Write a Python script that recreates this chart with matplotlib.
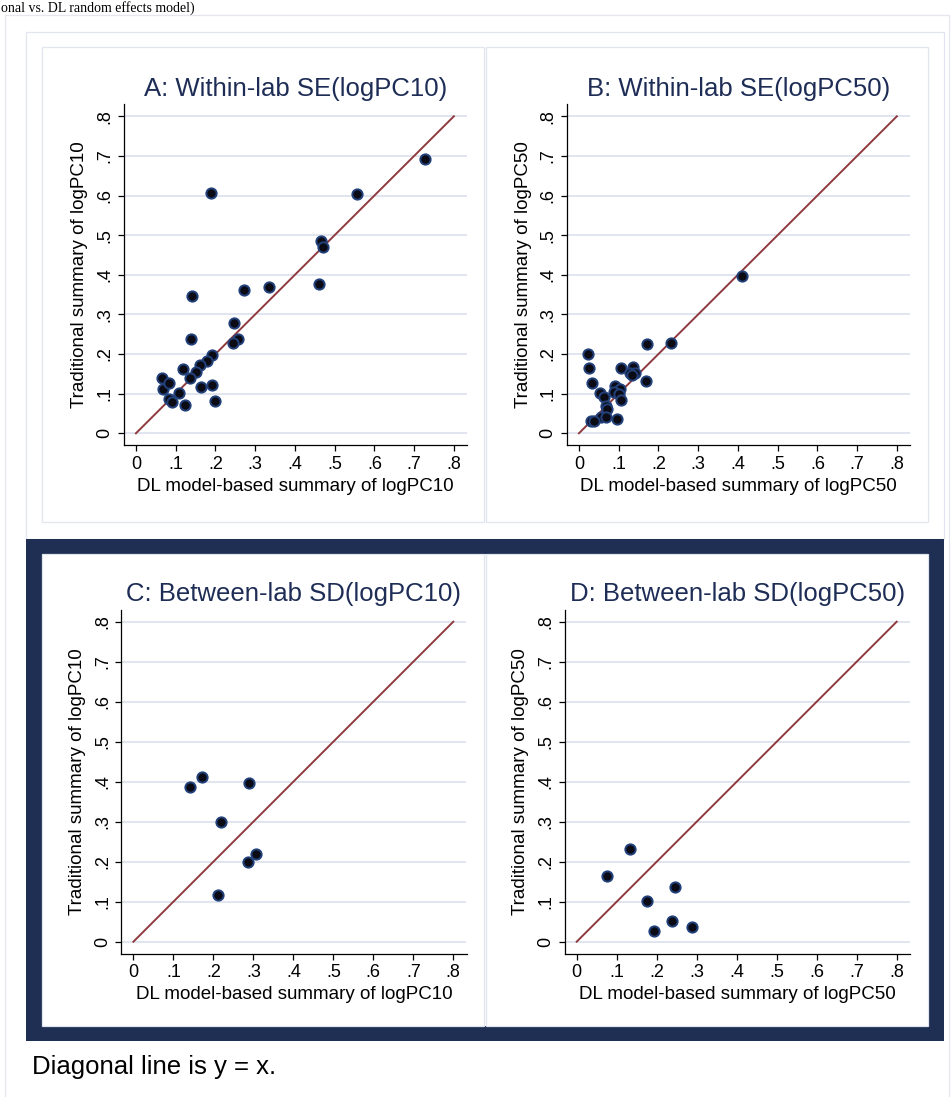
import numpy as np
import matplotlib.pyplot as plt
from matplotlib.patches import Rectangle

# panel A: within-lab SE(logPC10)
a_dl = [0.728, 0.557, 0.189, 0.465, 0.471, 0.460, 0.336, 0.272, 0.142, 0.247,
        0.138, 0.257, 0.243, 0.191, 0.179, 0.161, 0.151, 0.118, 0.137, 0.164,
        0.192, 0.065, 0.067, 0.084, 0.109, 0.084, 0.090, 0.124, 0.198]
a_trad = [0.692, 0.603, 0.607, 0.485, 0.469, 0.378, 0.368, 0.362, 0.346, 0.278,
          0.237, 0.237, 0.228, 0.197, 0.183, 0.172, 0.154, 0.163, 0.140, 0.118,
          0.122, 0.139, 0.113, 0.126, 0.101, 0.086, 0.080, 0.072, 0.082]

# panel B: within-lab SE(logPC50)
b_dl = [0.410, 0.231, 0.172, 0.170, 0.024, 0.025, 0.033, 0.105, 0.137, 0.128,
        0.140, 0.134, 0.092, 0.103, 0.089, 0.100, 0.106, 0.054, 0.062, 0.068,
        0.071, 0.056, 0.067, 0.030, 0.037, 0.097]
b_trad = [0.397, 0.229, 0.225, 0.133, 0.199, 0.165, 0.128, 0.165, 0.167, 0.152,
          0.152, 0.148, 0.119, 0.113, 0.104, 0.100, 0.084, 0.102, 0.091, 0.070,
          0.061, 0.042, 0.042, 0.032, 0.032, 0.037]

# panel C: between-lab SD(logPC10)
c_dl = [0.141, 0.171, 0.288, 0.219, 0.286, 0.306, 0.211]
c_trad = [0.386, 0.412, 0.398, 0.299, 0.199, 0.219, 0.117]

# panel D: between-lab SD(logPC50)
d_dl = [0.075, 0.133, 0.175, 0.246, 0.194, 0.239, 0.288]
d_trad = [0.164, 0.232, 0.101, 0.138, 0.027, 0.051, 0.038]

titles = ["A: Within-lab SE(logPC10)", "B: Within-lab SE(logPC50)",
          "C: Between-lab SD(logPC10)", "D: Between-lab SD(logPC50)"]
xlabels = ["DL model-based summary of logPC10", "DL model-based summary of logPC50"] * 2
ylabels = ["Traditional summary of logPC10", "Traditional summary of logPC50"] * 2
ticks = [0, 0.1, 0.2, 0.3, 0.4, 0.5, 0.6, 0.7, 0.8]
tick_labels = ["0", ".1", ".2", ".3", ".4", ".5", ".6", ".7", ".8"]

W, H = 953, 1097
navy = "#1e2d56"
frame_navy = "#1f2f53"
light = "#e1e5ef"
grid_col = "#dde3ef"
line_col = "#8f3a3e"

plt.rcParams["font.family"] = ["Liberation Sans", "DejaVu Sans"]

fig = plt.figure(figsize=(W / 100, H / 100), dpi=100)

# background layer in pixel coordinates
bg = fig.add_axes([0, 0, 1, 1])
bg.set_xlim(0, W)
bg.set_ylim(H, 0)
bg.axis("off")


def rect(x0, y0, x1, y1, **kw):
    bg.add_patch(Rectangle((x0, y0), x1 - x0, y1 - y0, **kw))


rect(5, 15, 949, 1110, fill=False, ec="#e4e7ee", lw=0.9)
rect(26, 32, 944, 539, fill=False, ec=light, lw=0.9)
rect(42, 47, 484, 522, fill=False, ec=light, lw=0.9)
rect(486, 47, 928, 522, fill=False, ec=light, lw=0.9)
rect(26, 539, 944, 1041, fc=frame_navy, ec="none")
rect(42, 554, 928, 1026, fc="white", ec="none")
rect(42, 554, 484, 1026, fill=False, ec=light, lw=0.9)
rect(486, 554, 928, 1026, fill=False, ec=light, lw=0.9)

bg.text(1, 12, "onal vs. DL random effects model)", family="Liberation Serif",
        fontsize=10, va="baseline", ha="left", color="black")
bg.text(32, 1067, "Diagonal line is y = x.", fontsize=18.5, va="center", ha="left")

# axes boxes in pixels: left, top, right, bottom
boxes = [(124, 104.4, 467, 445.2), (567, 104.4, 910, 445.2),
         (121.4, 609.7, 466.5, 953.7), (564.7, 609.7, 909.9, 953.7)]
xs = [a_dl, b_dl, c_dl, d_dl]
ys = [a_trad, b_trad, c_trad, d_trad]

for i in range(4):
    l, t, r, b = boxes[i]
    ax = fig.add_axes([l / W, 1 - b / H, (r - l) / W, (b - t) / H])
    ax.patch.set_alpha(0)
    ax.set_xlim(-0.03, 0.833)
    ax.set_ylim(-0.03, 0.83)
    ax.set_xticks(ticks)
    ax.set_xticklabels(tick_labels)
    ax.set_yticks(ticks)
    ax.set_yticklabels(tick_labels, rotation=90, va="center")
    ax.yaxis.grid(True, color=grid_col, lw=1.3)
    ax.set_axisbelow(True)
    for s in ["top", "right"]:
        ax.spines[s].set_visible(False)
    for s in ["left", "bottom"]:
        ax.spines[s].set_linewidth(0.9)
    ax.tick_params(direction="out", length=4.5, width=0.9, labelsize=13, pad=3)
    ax.plot([ticks[0], ticks[-1]], [ticks[0], ticks[-1]], color=line_col, lw=1.4, zorder=3)
    ax.plot(xs[i], ys[i], "o", ms=7.4, mfc="#0b0b16", mec="#22407a", mew=1.4,
            zorder=4, linestyle="none")
    ax.set_title(titles[i], fontsize=18.5, color=navy, pad=6)
    ax.set_xlabel(xlabels[i], fontsize=13.5, va="center")
    ax.xaxis.set_label_coords(0.5, -41 / (b - t))
    ax.set_ylabel(ylabels[i], fontsize=13.5, va="center")
    ax.yaxis.set_label_coords(-44 / (r - l), 0.5)

fig.savefig("out.png", dpi=100)
